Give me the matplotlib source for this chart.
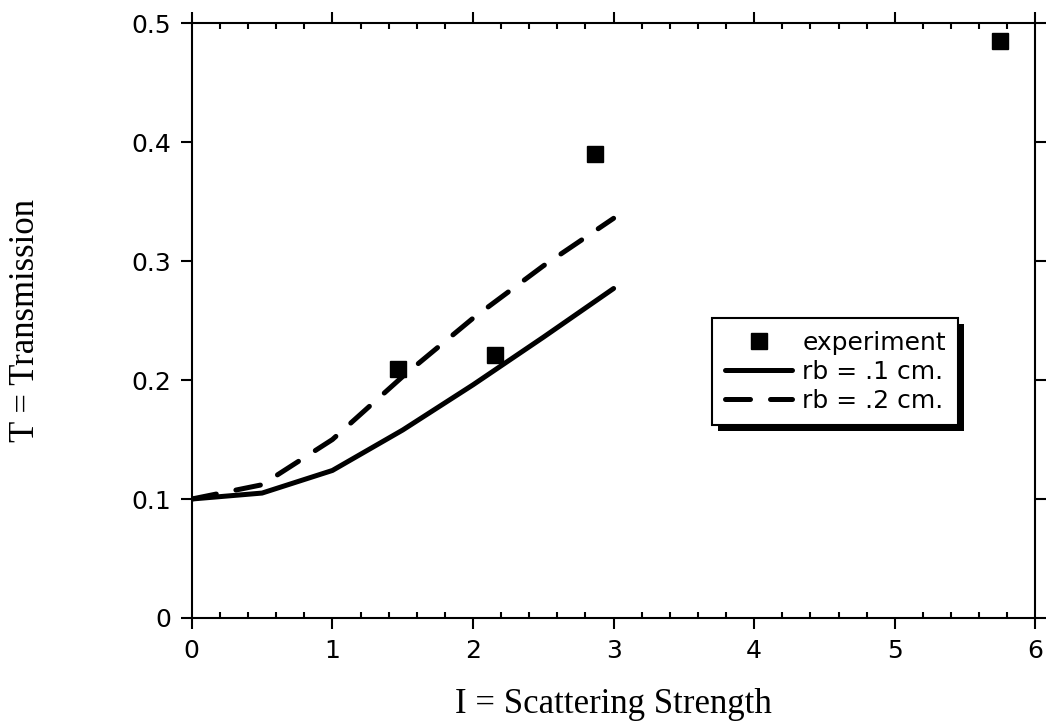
import numpy as np
import matplotlib.pyplot as plt
from matplotlib.ticker import MultipleLocator
import matplotlib.patheffects as pe

# experimental points
exp_I = [1.47, 2.16, 2.87, 5.75]
exp_T = [0.209, 0.221, 0.390, 0.485]

# model curves
I_model = [0, 0.5, 1.0, 1.5, 2.0, 2.5, 3.0]
T_rb1 = [0.100, 0.105, 0.124, 0.158, 0.196, 0.236, 0.277]
T_rb2 = [0.100, 0.112, 0.150, 0.203, 0.252, 0.296, 0.336]

xticks = [0, 1, 2, 3, 4, 5, 6]
yticks = [0, 0.1, 0.2, 0.3, 0.4, 0.5]
ytick_labels = ['0', '0.1', '0.2', '0.3', '0.4', '0.5']

fig = plt.figure(figsize=(10.48, 7.27), dpi=100)
ax = fig.add_axes([0.183, 0.150, 0.805, 0.818])

ax.plot(I_model, T_rb1, color='black', lw=3.6, solid_capstyle='round',
        label='rb = .1 cm.')
ax.plot(I_model, T_rb2, color='black', lw=3.6, dashes=(5.0, 4.0),
        dash_capstyle='round', label='rb = .2 cm.')
ax.plot(exp_I, exp_T, 's', color='black', ms=12, label='experiment')

ax.set_xlim(0, 6)
ax.set_ylim(0, 0.5)
ax.set_xticks(xticks)
ax.set_yticks(yticks)
ax.set_yticklabels(ytick_labels)
ax.xaxis.set_minor_locator(MultipleLocator(0.2))

for s in ax.spines.values():
    s.set_linewidth(1.5)

ax.tick_params(which='major', direction='out', length=8, width=1.5,
               top=True, right=True, labelsize=18, pad=7)
ax.tick_params(axis='x', which='minor', direction='in', length=4, width=1.5,
               top=True, bottom=True)

ax.set_xlabel('I = Scattering Strength', family='Liberation Serif', fontsize=25)
ax.set_ylabel('T = Transmission', family='Liberation Serif', fontsize=25)
ax.xaxis.set_label_coords(0.5, -0.118)
ax.yaxis.set_label_coords(-0.177, 0.5)

handles, labels = ax.get_legend_handles_labels()
order = [2, 0, 1]
leg = ax.legend([handles[i] for i in order], [labels[i] for i in order],
                loc='lower left', bbox_to_anchor=(0.617, 0.324),
                borderaxespad=0, fontsize=18, frameon=True, fancybox=False,
                edgecolor='black', framealpha=1, handlelength=2.7,
                handletextpad=0.4, labelspacing=0.2, borderpad=0.5)
frame = leg.get_frame()
frame.set_linewidth(1.5)
frame.set_path_effects([pe.SimplePatchShadow(offset=(4, -4), shadow_rgbFace='black', alpha=1),
                        pe.Normal()])

fig.savefig('out.png', dpi=100)
